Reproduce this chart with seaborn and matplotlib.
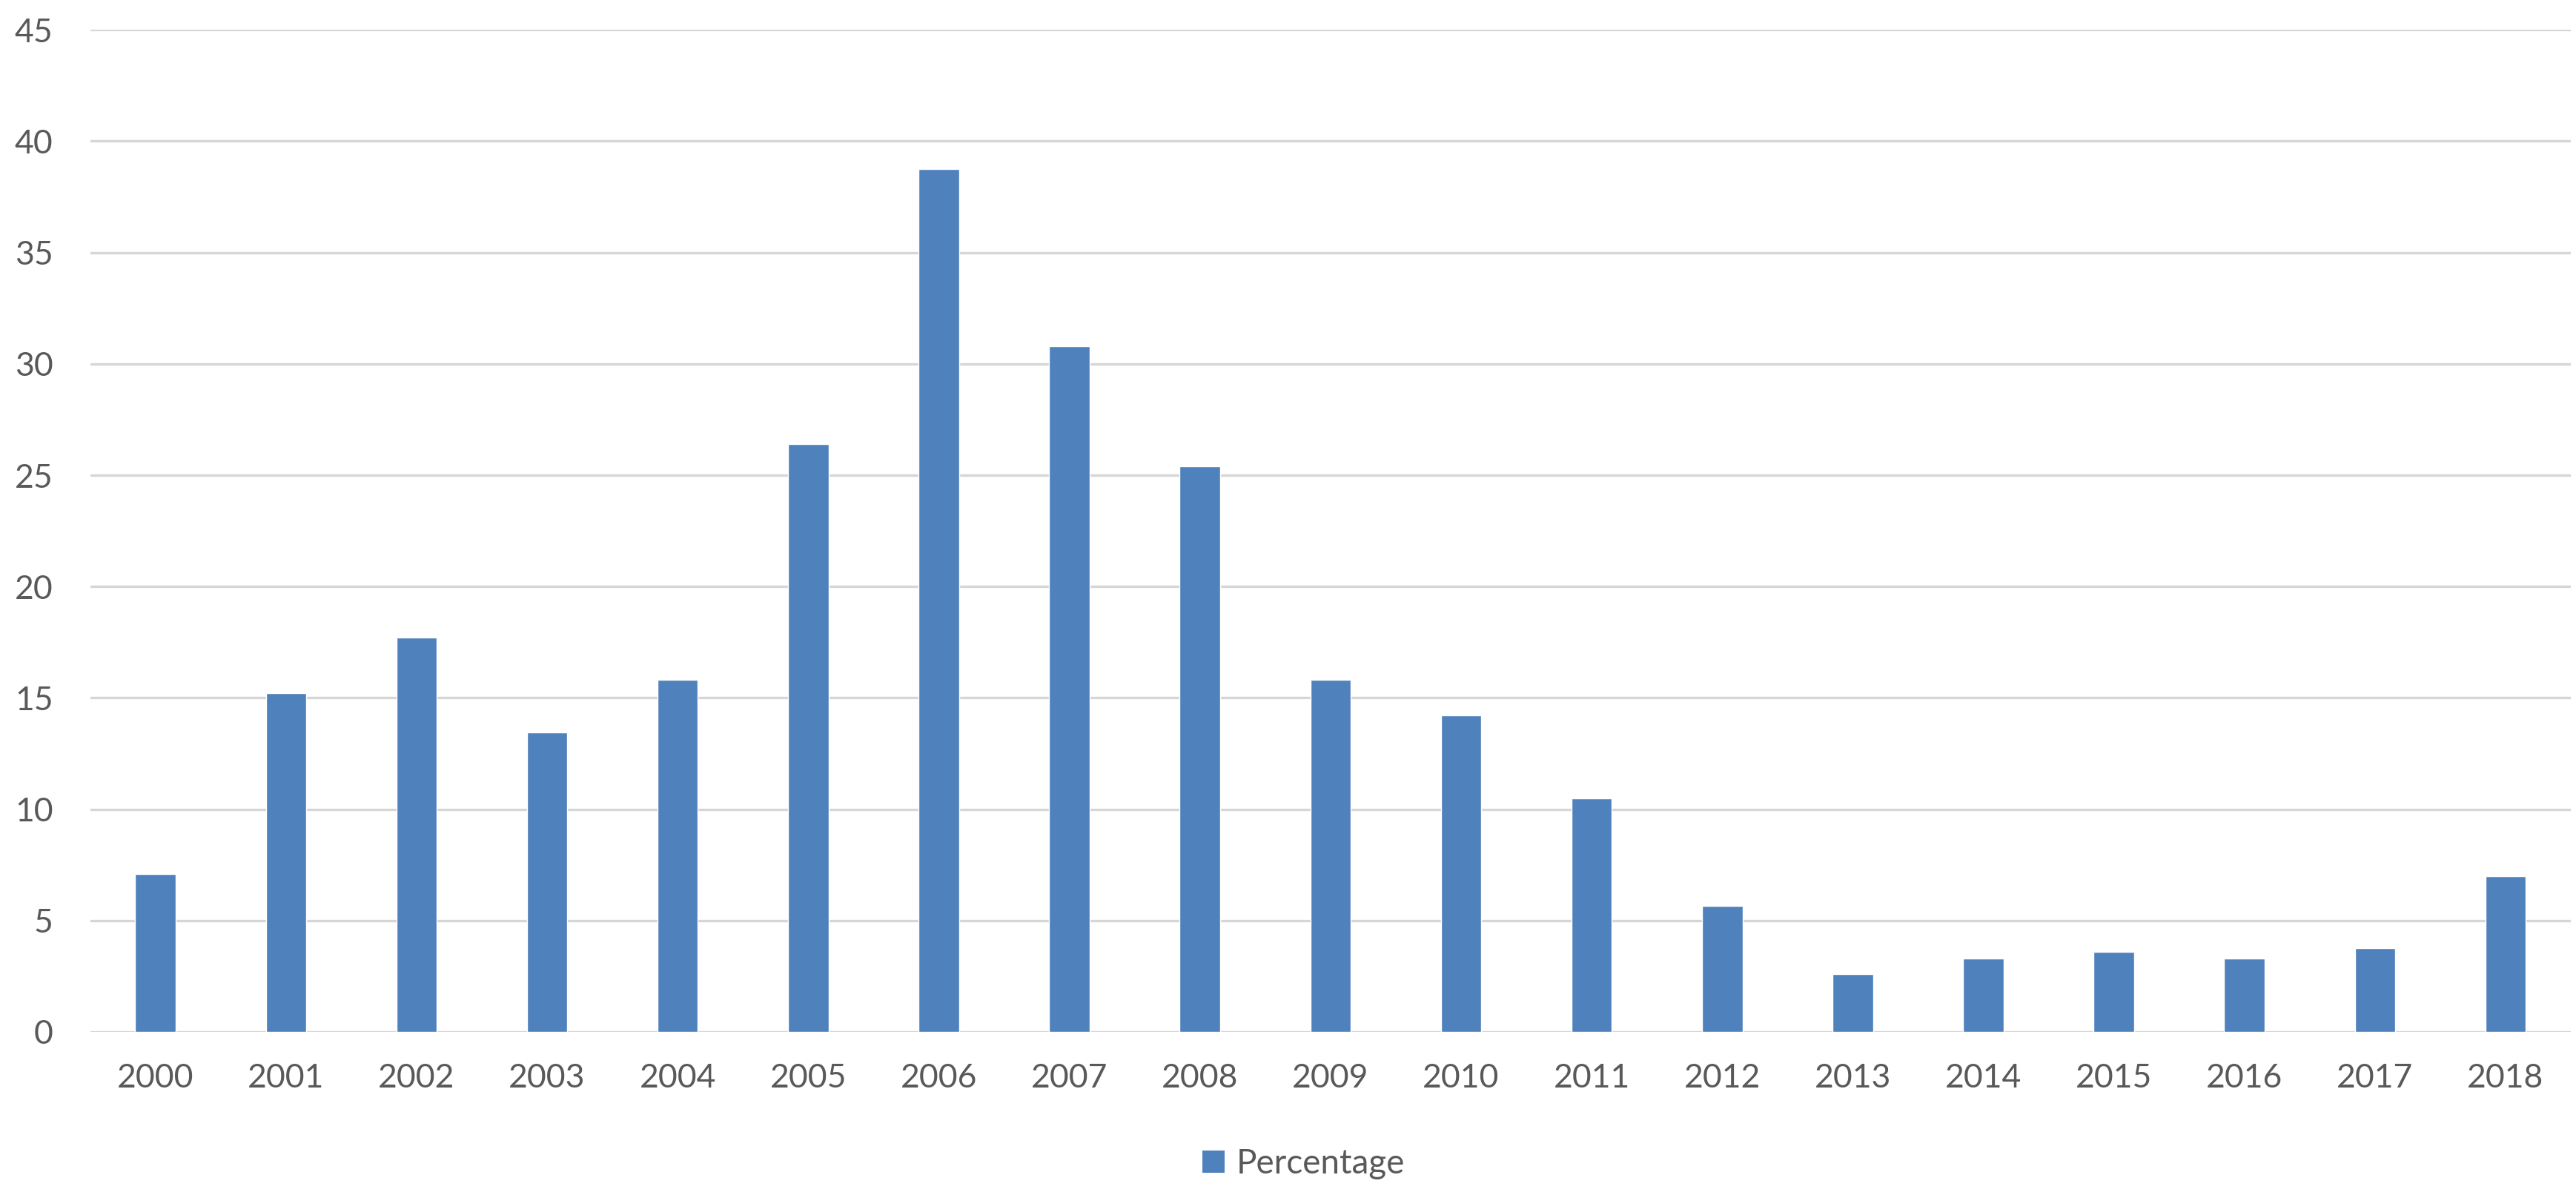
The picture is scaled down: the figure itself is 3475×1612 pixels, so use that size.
import pandas as pd
import seaborn as sns
import matplotlib.pyplot as plt
from matplotlib.patches import Patch

# values
YEARS = ['2000', '2001', '2002', '2003', '2004', '2005', '2006', '2007', '2008', '2009',
         '2010', '2011', '2012', '2013', '2014', '2015', '2016', '2017', '2018']
PERCENTAGE = [7.1, 15.2, 17.7, 13.45, 15.8, 26.4, 38.75, 30.8, 25.4, 15.8,
              14.2, 10.5, 5.65, 2.6, 3.3, 3.6, 3.3, 3.75, 7.0]
YTICKS = [0, 5, 10, 15, 20, 25, 30, 35, 40, 45]

BAR_COLOR = '#4F81BD'
GRID_COLOR = '#D6D6D6'
TEXT_COLOR = '#595959'

df = pd.DataFrame({'Year': YEARS, 'Percentage': PERCENTAGE})

sns.set_theme(style='white')
plt.rcParams['font.family'] = ['Lato', 'DejaVu Sans']

fig = plt.figure(figsize=(34.75, 16.12), dpi=100)
ax = fig.add_axes([0.035, 0.1365, 0.963, 0.8385])

sns.barplot(data=df, x='Year', y='Percentage', color=BAR_COLOR, width=0.31,
            saturation=1, ax=ax)

ax.set_ylim(0, 45)
ax.set_yticks(YTICKS)
ax.set_xlim(-0.5, len(YEARS) - 0.5)
ax.yaxis.grid(True, color=GRID_COLOR, linewidth=2.4)
ax.set_axisbelow(True)
for s in ax.spines.values():
    s.set_visible(False)
ax.set_xlabel('')
ax.set_ylabel('')
ax.tick_params(axis='both', length=0, labelsize=32, labelcolor=TEXT_COLOR)
ax.tick_params(axis='y', pad=36)
ax.tick_params(axis='x', pad=30)

# legend at the bottom centre, Excel style
handles = [Patch(facecolor=BAR_COLOR, edgecolor='none', label='Percentage')]
fig.legend(handles=handles, loc='center', bbox_to_anchor=(0.506, 0.026), frameon=False,
           fontsize=33, labelcolor=TEXT_COLOR, handlelength=0.65, handleheight=0.65,
           handletextpad=0.35)

fig.savefig('out.png', dpi=100, facecolor='white')
